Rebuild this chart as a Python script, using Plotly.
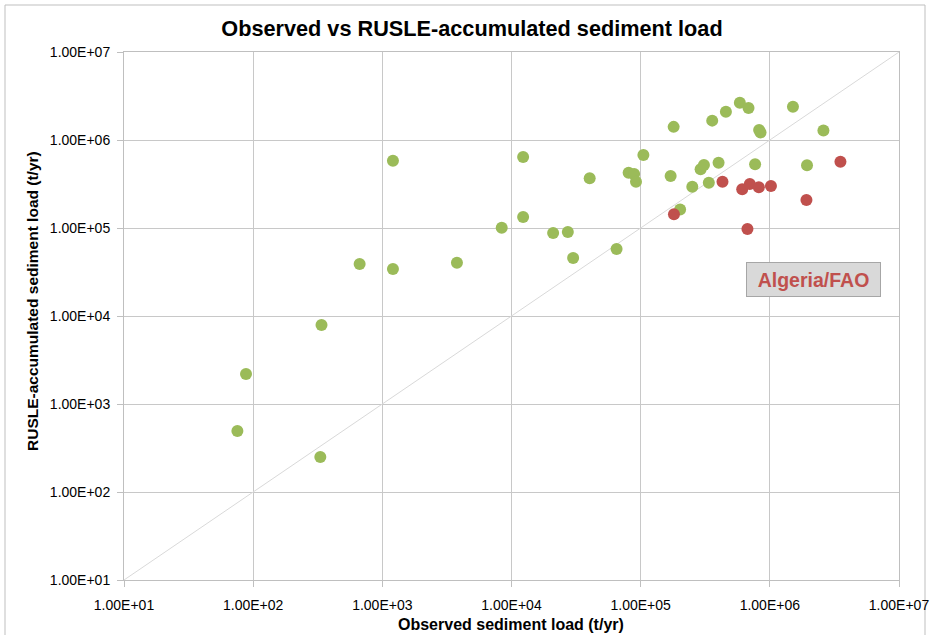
import plotly.graph_objects as go

# Data
green_x = [75.5, 88, 331, 338, 667, 1208, 1208, 3780, 8400, 12300, 12300, 21000, 27300, 30000,
           40300, 65100, 80700, 89000, 92000, 105000, 170600, 180000, 202000, 251000, 291000,
           309000, 337000, 358000, 401000, 457000, 586000, 684000, 769000, 826000, 847000,
           1510000, 1940000, 2600000]
green_y = [493, 2190, 250, 7900, 38900, 34200, 582000, 40400, 100600, 641000, 133000, 87700, 90000, 45700,
           367000, 57700, 424000, 411000, 336000, 676000, 389000, 1410000, 162000, 295000, 465000,
           520000, 327000, 1660000, 553000, 2090000, 2650000, 2310000, 530000, 1300000, 1220000,
           2390000, 515000, 1280000]
red_x = [181000, 430000, 611000, 700000, 822000, 1020000, 671000, 1920000, 3520000]
red_y = [143000, 336000, 275000, 316000, 290000, 300000, 97500, 208000, 566000]

tick_vals = [1e1, 1e2, 1e3, 1e4, 1e5, 1e6, 1e7]
tick_text = ["1.00E+01", "1.00E+02", "1.00E+03", "1.00E+04", "1.00E+05", "1.00E+06", "1.00E+07"]
line_ends = [1e1, 1e7]

FONT = "Liberation Sans, Arial"
W, H = 930, 635
L, T = 124, 52
R, B = W - 899, H - 580
PW, PH = W - L - R, H - T - B


def px(x):
    return (x - L) / PW


def py(y):
    return (H - B - y) / PH


fig = go.Figure()
fig.add_trace(go.Scatter(x=line_ends, y=line_ends, mode="lines",
                         line=dict(color="#D9D9D9", width=1), hoverinfo="skip", showlegend=False))
fig.add_trace(go.Scatter(x=green_x, y=green_y, mode="markers",
                         marker=dict(color="#9BBB59", size=12, line=dict(width=0)), showlegend=False))
fig.add_trace(go.Scatter(x=red_x, y=red_y, mode="markers",
                         marker=dict(color="#C0504D", size=12, line=dict(width=0)), showlegend=False))

axis_common = dict(type="log", tickvals=tick_vals, ticktext=tick_text, showgrid=True,
                   gridcolor="#C8C8C8", gridwidth=1, showline=True, linecolor="#BFBFBF",
                   linewidth=1, ticks="outside", ticklen=6, tickcolor="#BFBFBF",
                   tickfont=dict(family=FONT, size=14, color="#000000"), zeroline=False, mirror=True,
                   automargin=False, range=[1, 7])

fig.update_xaxes(ticklabelstandoff=6, **axis_common)
fig.update_yaxes(ticklabelstandoff=4, **axis_common)

# axis titles
fig.add_annotation(x=px(511), y=py(624), xref="paper", yref="paper",
                   text="<b>Observed sediment load (t/yr)</b>", showarrow=False,
                   font=dict(family=FONT, size=16, color="#000000"), xanchor="center", yanchor="middle")
fig.add_annotation(x=px(32), y=py(301), xref="paper", yref="paper",
                   text="<b>RUSLE-accumulated sediment load (t/yr)</b>", showarrow=False, textangle=-90,
                   font=dict(family=FONT, size=15.5, color="#000000"), xanchor="center", yanchor="middle")

fig.add_annotation(x=6.34, y=4.42, xref="x", yref="y", text="<b>Algeria/FAO</b>", showarrow=False,
                   font=dict(family=FONT, size=19.5, color="#C0504D"), bgcolor="#D9D9D9",
                   bordercolor="#A6A6A6", borderwidth=1, borderpad=3, width=127, height=27)

# chart area border
fig.add_shape(type="rect", xref="paper", yref="paper",
              x0=px(5), x1=px(925), y0=py(650), y1=py(5),
              line=dict(color="#BFBFBF", width=1), layer="below")

fig.update_layout(
    width=W, height=H,
    margin=dict(l=L, r=R, t=T, b=B),
    paper_bgcolor="white", plot_bgcolor="white",
    title=dict(text="<b>Observed vs RUSLE-accumulated sediment load</b>", x=472 / W,
               xanchor="center", xref="container", y=1 - 28 / H, yanchor="middle",
               font=dict(family=FONT, size=21.7, color="#000000")),
)

fig.write_html("out.html", config={"displayModeBar": False},
               post_script="document.body.style.margin='0';document.body.style.overflow='hidden';")
